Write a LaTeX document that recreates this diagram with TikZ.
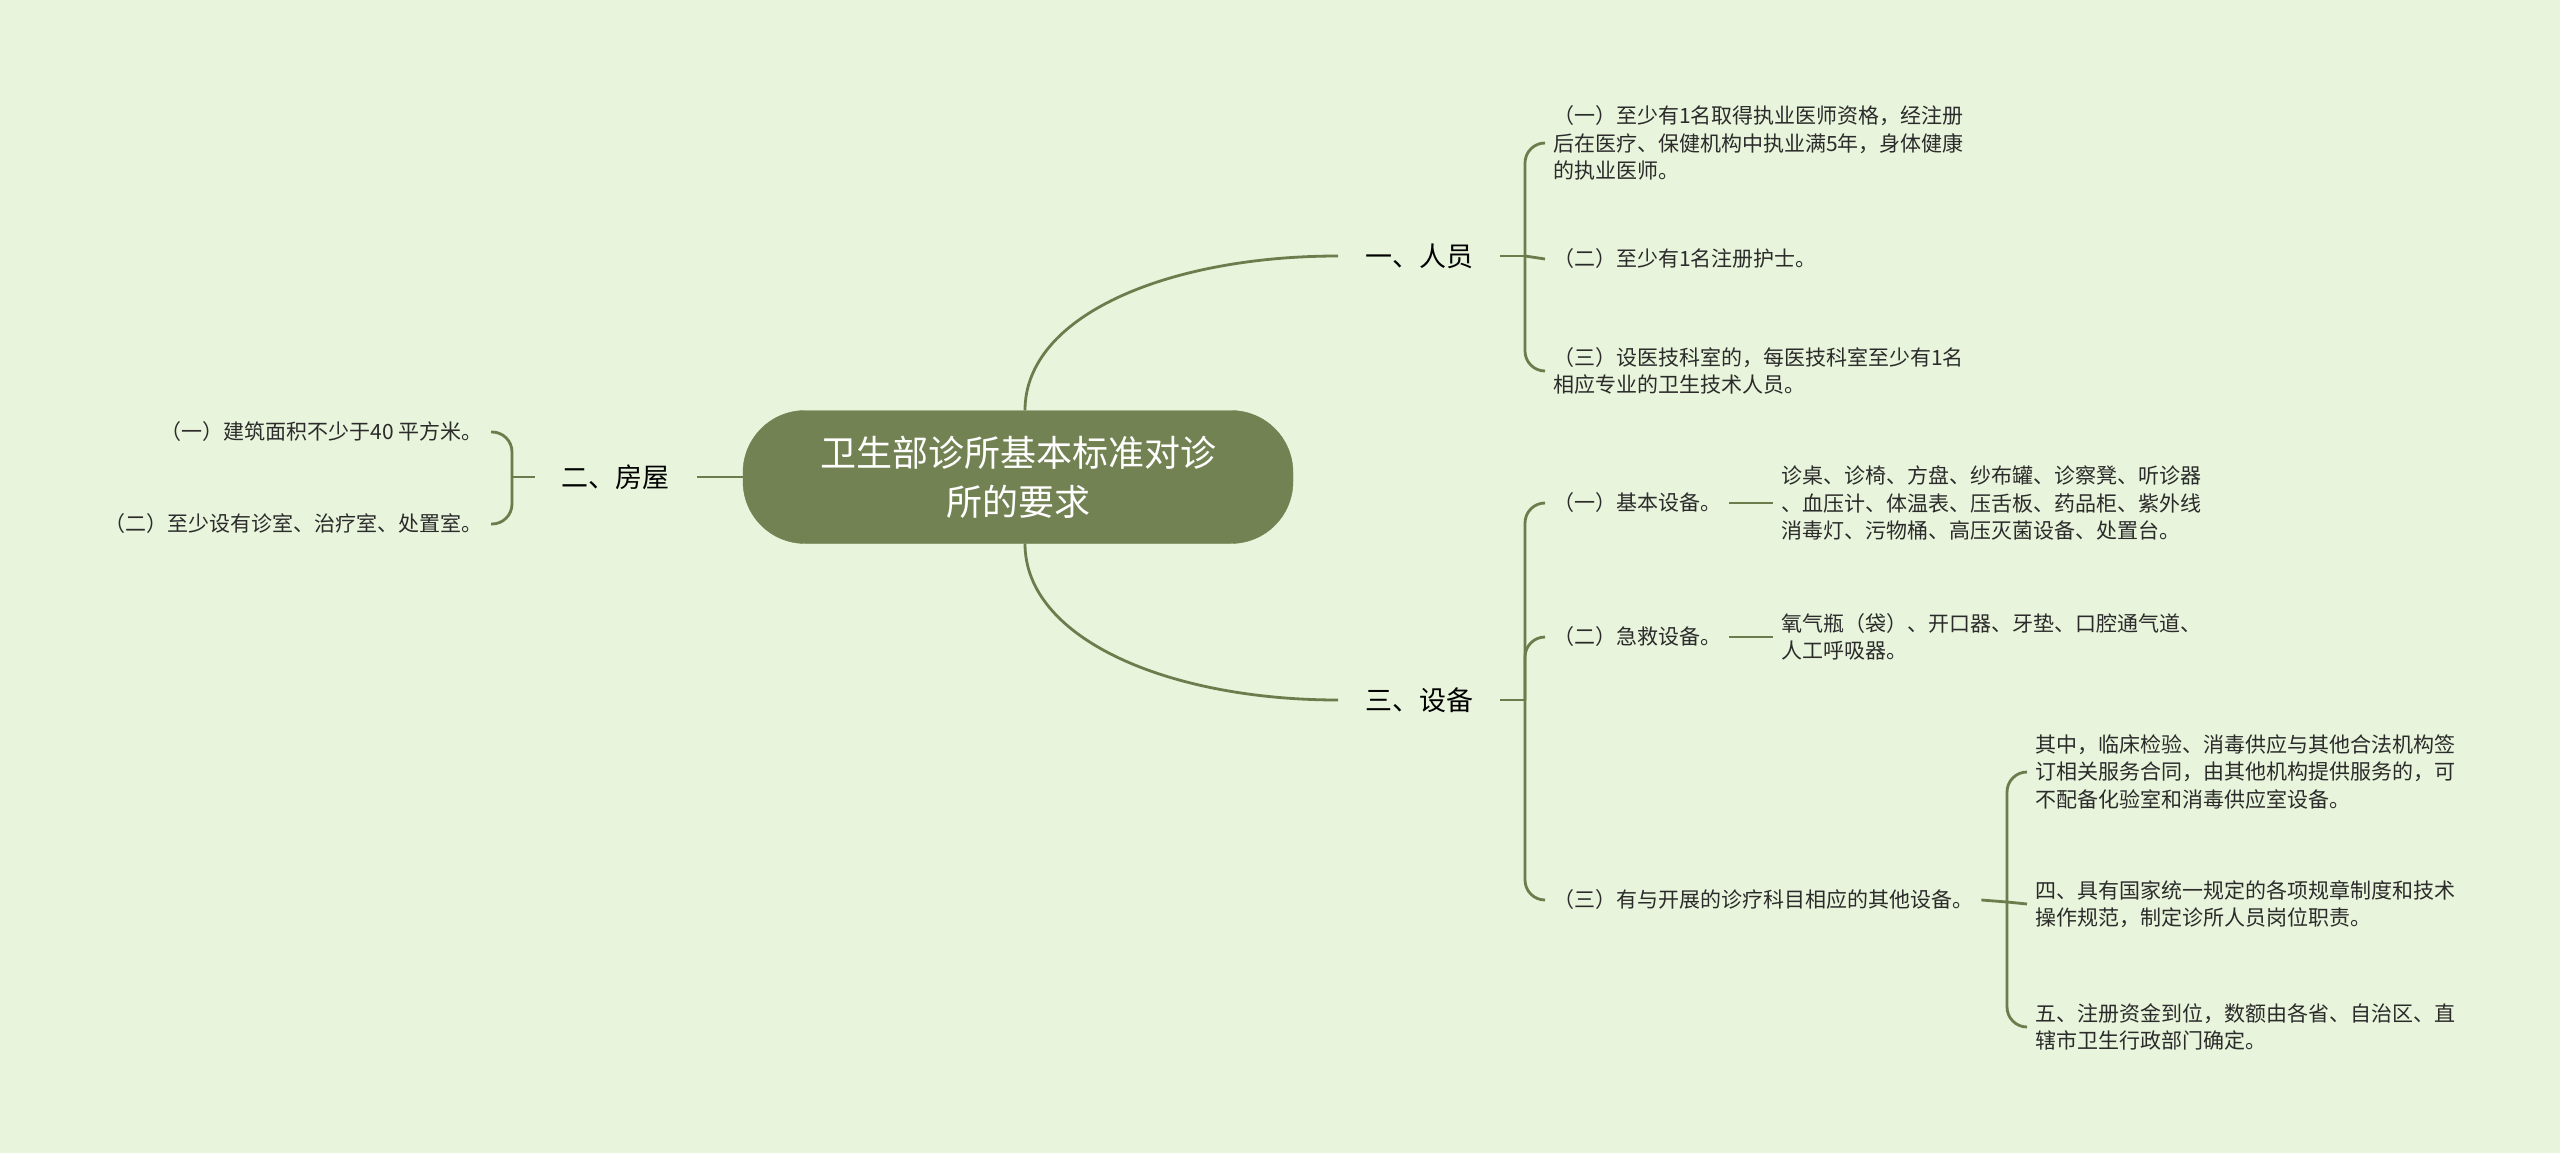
\documentclass[tikz,border=0pt]{standalone}
\usepackage{fontspec}
\newfontfamily\cjk{Noto Sans CJK SC}
\usetikzlibrary{positioning}
\definecolor{bgc}{HTML}{E8F4DB}
\definecolor{mgreen}{HTML}{738253}
\definecolor{mline}{HTML}{6D7C4C}
\definecolor{mink}{HTML}{2B2B2B}
\tikzstyle{root}=[rounded corners=62pt, fill=mgreen, draw=mgreen, minimum width=550pt, minimum height=133pt, align=center, text=white, font=\cjk\fontsize{36pt}{49pt}\selectfont]
\tikzstyle{topic}=[inner xsep=27pt, inner ysep=4pt, text=black, font=\cjk\fontsize{27pt}{32pt}\selectfont]
\tikzstyle{item}=[inner xsep=8pt, inner ysep=2pt, align=left, text=mink, font=\cjk\fontsize{21pt}{27.5pt}\selectfont]
\tikzstyle{l1}=[line width=2.8pt, draw=mline]
\tikzstyle{br}=[l1, rounded corners=20pt]

\begin{document}
\begin{tikzpicture}[x=1pt, y=-1pt]
    \fill[bgc] (0,0) rectangle (2560,1153);
    \node (root) [root] at (1018,477) {卫生部诊所基本标准对诊\\所的要求};
    \node (p1) [topic, anchor=west] at (1338,256) {一、人员};
    \node (p2) [topic, anchor=east] at (697,477) {二、房屋};
    \node (p3) [topic, anchor=west] at (1338,700) {三、设备};
    \draw[l1] ([xshift=7pt]root.north) .. controls +(0,-95) and +(-170,0) .. (p1.west);
    \draw[l1] ([xshift=7pt]root.south) .. controls +(0,95) and +(-170,0) .. (p3.west);
    \draw[l1] (root.west) -- (p2.east);

    % 一、人员
    \node (a1) [item, anchor=west] at (1545,143) {（一）至少有1名取得执业医师资格，经注册\\后在医疗、保健机构中执业满5年，身体健康\\的执业医师。};
    \node (a2) [item, anchor=west] at (1545,259) {（二）至少有1名注册护士。};
    \node (a3) [item, anchor=west] at (1545,371) {（三）设医技科室的，每医技科室至少有1名\\相应专业的卫生技术人员。};
    \coordinate (b1) at (1525,256);
    \draw[l1] (p1.east) -- (b1);
    \draw[l1] (b1) -- (a2.west);
    \foreach \n in {a1,a3} \draw[br] (b1) |- (\n.west);

    % 三、设备
    \node (c1) [item, anchor=west] at (1545,503) {（一）基本设备。};
    \node (d1) [item, right=44pt of c1] {诊桌、诊椅、方盘、纱布罐、诊察凳、听诊器\\、血压计、体温表、压舌板、药品柜、紫外线\\消毒灯、污物桶、高压灭菌设备、处置台。};
    \node (c2) [item, anchor=west] at (1545,637) {（二）急救设备。};
    \node (d2) [item, right=44pt of c2] {氧气瓶（袋）、开口器、牙垫、口腔通气道、\\人工呼吸器。};
    \node (c3) [item, anchor=west] at (1545,900) {（三）有与开展的诊疗科目相应的其他设备。};
    \coordinate (b2) at (1525,700);
    \draw[l1] (p3.east) -- (b2);
    \foreach \n in {c1,c2,c3} \draw[br] (b2) |- (\n.west);
    \draw[l1] (c1.east) -- (d1.west);
    \draw[l1] (c2.east) -- (d2.west);

    \node (e1) [item, anchor=west] at (2027,772) {其中，临床检验、消毒供应与其他合法机构签\\订相关服务合同，由其他机构提供服务的，可\\不配备化验室和消毒供应室设备。};
    \node (e2) [item, anchor=west] at (2027,904) {四、具有国家统一规定的各项规章制度和技术\\操作规范，制定诊所人员岗位职责。};
    \node (e3) [item, anchor=west] at (2027,1027) {五、注册资金到位，数额由各省、自治区、直\\辖市卫生行政部门确定。};
    \coordinate (b3) at (2007,902);
    \draw[l1] (c3.east) -- (b3);
    \draw[l1] (b3) -- (e2.west);
    \foreach \n in {e1,e3} \draw[br] (b3) |- (\n.west);

    % 二、房屋
    \node (f1) [item, anchor=east] at (491,432) {（一）建筑面积不少于40 平方米。};
    \node (f2) [item, anchor=east] at (491,524) {（二）至少设有诊室、治疗室、处置室。};
    \coordinate (b4) at (512,477);
    \draw[l1] (p2.west) -- (b4);
    \foreach \n in {f1,f2} \draw[br] (b4) |- (\n.east);
\end{tikzpicture}
\end{document}
